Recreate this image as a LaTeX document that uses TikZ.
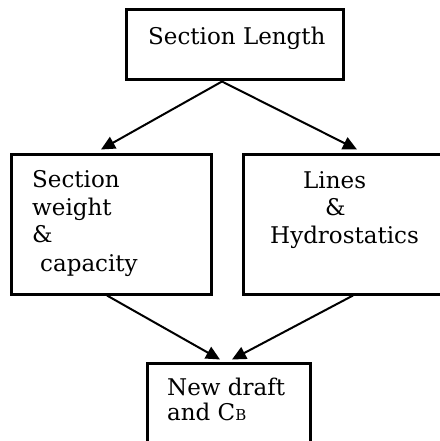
\documentclass[tikz,border=0pt]{standalone}
\usepackage{fontspec}
\setmainfont{DejaVu Serif}
\usetikzlibrary{arrows.meta,calc}
\begin{document}
\begin{tikzpicture}[x=1pt,y=-1pt,
  box/.style={draw,line width=3pt,inner sep=0pt},
  lbl/.style={anchor=base west,inner sep=0pt,font=\fontsize{23}{27}\selectfont},
  conn/.style={line width=2pt,-{Triangle[length=14pt,width=13pt]}}]
\useasboundingbox (0,0) rectangle (439,441);
\fill[white] (0,0) rectangle (439,441);
% boxes
\node[box,minimum width=217pt,minimum height=70pt] (top) at (234.5,45) {};
\node[box,minimum width=200pt,minimum height=140pt] (left) at (111,224) {};
\node[box,minimum width=217pt,minimum height=140pt] (right) at (351.5,224) {};
\node[box,minimum width=163pt,minimum height=107pt] (bot) at (228.5,416.5) {};
% texts
\node[lbl] (t1) at (148,45) {Section Length};
\node[lbl] (l1) at (32,187) {Section};
\node[lbl] (l2) at (32,215) {weight};
\node[lbl] (l3) at (32,242) {\&};
\node[lbl] (l4) at (40,271) {capacity};
\node[lbl] (r1) at (303,188) {Lines};
\node[lbl] (r2) at (325,215) {\&};
\node[lbl] (r3) at (270,243) {Hydrostatics};
\node[lbl] (b1) at (167,395) {New draft};
\node[lbl] (b2) at (167,420) {and C{\fontsize{15}{15}\selectfont B}};
% connector ends
\coordinate (ts) at ($(top.south)+(-12.5,0)$);
\coordinate (le) at ($(left.north)+(-10,-3)$);
\coordinate (re) at ($(right.north)+(5.5,-3)$);
\coordinate (ls) at ($(left.south)+(-4,0)$);
\coordinate (rs) at ($(right.south)+(1.5,0)$);
\coordinate (be1) at ($(bot.north)+(-8.5,-2)$);
\coordinate (be2) at ($(bot.north)+(3.5,-2)$);
\draw[conn] (ts) -- (le);
\draw[conn] (ts) -- (re);
\draw[conn] (ls) -- (be1);
\draw[conn] (rs) -- (be2);
\end{tikzpicture}
\end{document}
